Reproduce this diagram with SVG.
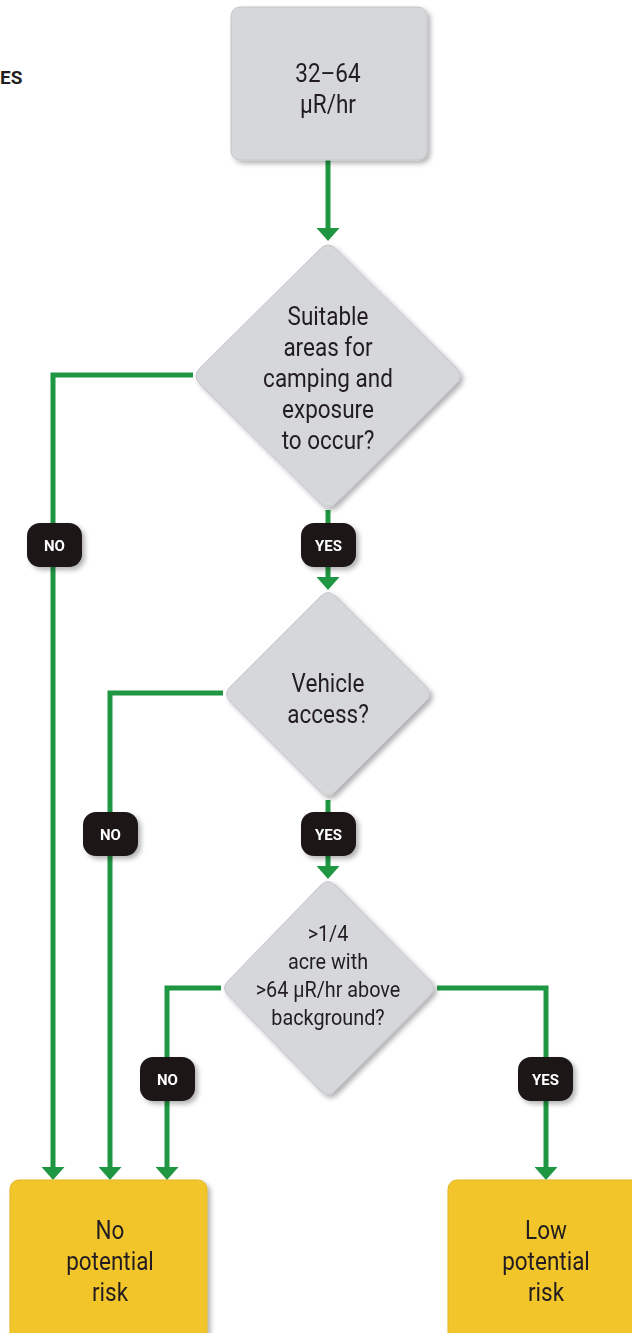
<svg xmlns="http://www.w3.org/2000/svg" width="632" height="1333" viewBox="0 0 632 1333">
  <style>
    .lbl { font-family: Roboto, "Liberation Sans", sans-serif; font-size: 25px; fill: #231f20; text-anchor: middle; }
    .sm { font-size: 22px; }
    .pill { fill: #1a1414; }
    .pilltxt { font-family: Roboto, "Liberation Sans", sans-serif; font-weight: bold; font-size: 15px; fill: #ffffff; text-anchor: middle; }
    .grey { fill: #d5d7da; stroke: #c4c6c9; stroke-width: 1; }
    .gold { fill: #f2c62a; stroke: #e0b620; stroke-width: 1; }
    .wire { fill: none; stroke: #1f9642; stroke-width: 5; stroke-linejoin: miter; }
  </style>
  <defs>
    <filter id="shadow" x="-20%" y="-20%" width="150%" height="150%">
      <feDropShadow dx="3" dy="3" stdDeviation="2.5" flood-color="#000" flood-opacity="0.3"/>
    </filter>
    <!-- tip sits 10px past the end of the path so the stroke end hides inside the head -->
    <marker id="arrow" viewBox="0 0 13 23" refX="3" refY="11.5" markerWidth="13" markerHeight="23" markerUnits="userSpaceOnUse" orient="auto">
      <path d="M0,0 L13,11.5 L0,23 z" fill="#1f9642"/>
    </marker>
  </defs>

  <rect width="632" height="1333" fill="#ffffff"/>

  <text x="0" y="84" font-family="Roboto, 'Liberation Sans', sans-serif" font-weight="bold" font-size="19" fill="#231f20">ES</text>

  <!-- connectors -->
  <g id="connectors">
    <path class="wire" d="M328,160 V231" marker-end="url(#arrow)"/>
    <path class="wire" d="M193,375 H53 V1170" marker-end="url(#arrow)"/>
    <path class="wire" d="M328,510 V580" marker-end="url(#arrow)"/>
    <path class="wire" d="M223,693 H110 V1170" marker-end="url(#arrow)"/>
    <path class="wire" d="M328,800 V869" marker-end="url(#arrow)"/>
    <path class="wire" d="M221,988 H167 V1170" marker-end="url(#arrow)"/>
    <path class="wire" d="M437,988 H546 V1170" marker-end="url(#arrow)"/>
  </g>

  <g id="start" filter="url(#shadow)">
    <rect class="grey" x="231" y="7" width="196" height="153" rx="9"/>
    <g transform="translate(328 0) scale(0.9 1)">
      <text class="lbl" x="0" y="82">32–64</text>
      <text class="lbl" x="0" y="113">µR/hr</text>
    </g>
  </g>

  <g id="q-camping" filter="url(#shadow)">
    <path class="grey" d="M320,249 Q328,241 336,249 L456,368 Q464,376 456,384 L336,503 Q328,511 320,503 L200,384 Q192,376 200,368 Z"/>
    <g transform="translate(328 0) scale(0.9 1)">
      <text class="lbl" x="0" y="325">Suitable</text>
      <text class="lbl" x="0" y="356">areas for</text>
      <text class="lbl" x="0" y="387">camping and</text>
      <text class="lbl" x="0" y="418">exposure</text>
      <text class="lbl" x="0" y="449">to occur?</text>
    </g>
  </g>

  <g id="q-vehicle" filter="url(#shadow)">
    <path class="grey" d="M321,596 Q328,589 335,596 L426,687 Q433,694 426,701 L335,792 Q328,799 321,792 L230,701 Q223,694 230,687 Z"/>
    <g transform="translate(328 0) scale(0.9 1)">
      <text class="lbl" x="0" y="692">Vehicle</text>
      <text class="lbl" x="0" y="723">access?</text>
    </g>
  </g>

  <g id="q-acre" filter="url(#shadow)">
    <path class="grey" d="M321,885 Q328,878 335,885 L430,981 Q437,988 430,995 L335,1091 Q328,1098 321,1091 L228,995 Q221,988 228,981 Z"/>
    <g transform="translate(328 0) scale(0.9 1)">
      <text class="lbl sm" x="0" y="941">&gt;1/4</text>
      <text class="lbl sm" x="0" y="969">acre with</text>
      <text class="lbl sm" x="0" y="997">&gt;64 µR/hr above</text>
      <text class="lbl sm" x="0" y="1025">background?</text>
    </g>
  </g>

  <g id="no-risk" filter="url(#shadow)">
    <rect class="gold" x="10" y="1180" width="197" height="170" rx="9"/>
    <g transform="translate(110 0) scale(0.9 1)">
      <text class="lbl" x="0" y="1239">No</text>
      <text class="lbl" x="0" y="1270">potential</text>
      <text class="lbl" x="0" y="1301">risk</text>
    </g>
  </g>

  <g id="low-risk" filter="url(#shadow)">
    <rect class="gold" x="448" y="1180" width="200" height="170" rx="9"/>
    <g transform="translate(546 0) scale(0.9 1)">
      <text class="lbl" x="0" y="1239">Low</text>
      <text class="lbl" x="0" y="1270">potential</text>
      <text class="lbl" x="0" y="1301">risk</text>
    </g>
  </g>

  <g id="label-no-1" filter="url(#shadow)">
    <rect class="pill" x="27" y="523" width="55" height="44" rx="13"/>
    <text class="pilltxt" x="54.5" y="550.5">NO</text>
  </g>
  <g id="label-yes-1" filter="url(#shadow)">
    <rect class="pill" x="301" y="523" width="55" height="44" rx="13"/>
    <text class="pilltxt" x="328.5" y="550.5">YES</text>
  </g>
  <g id="label-no-2" filter="url(#shadow)">
    <rect class="pill" x="83" y="812" width="55" height="44" rx="13"/>
    <text class="pilltxt" x="110.5" y="839.5">NO</text>
  </g>
  <g id="label-yes-2" filter="url(#shadow)">
    <rect class="pill" x="301" y="812" width="55" height="44" rx="13"/>
    <text class="pilltxt" x="328.5" y="839.5">YES</text>
  </g>
  <g id="label-no-3" filter="url(#shadow)">
    <rect class="pill" x="140" y="1057" width="55" height="44" rx="13"/>
    <text class="pilltxt" x="167.5" y="1084.5">NO</text>
  </g>
  <g id="label-yes-3" filter="url(#shadow)">
    <rect class="pill" x="518" y="1057" width="55" height="44" rx="13"/>
    <text class="pilltxt" x="545.5" y="1084.5">YES</text>
  </g>
</svg>
